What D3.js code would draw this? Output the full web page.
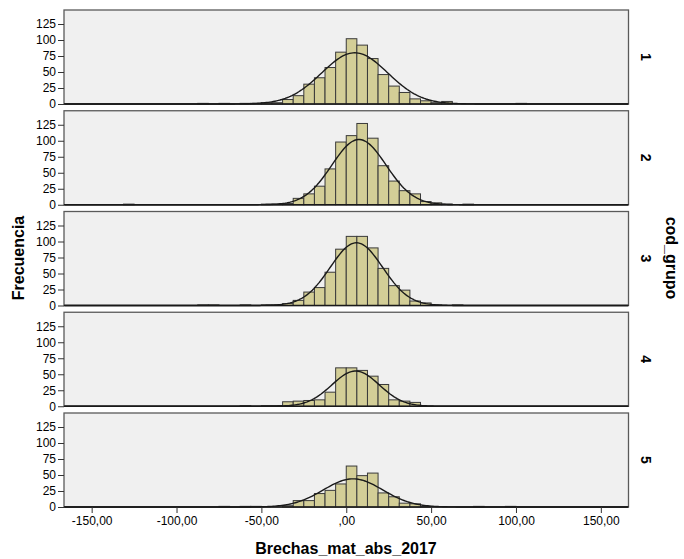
<!DOCTYPE html>
<html>
<head>
  <meta charset="utf-8">
  <script src="https://d3js.org/d3.v7.min.js"></script>
  <style>
    body { margin: 0; background: #fff; }
    text { font-family: "Liberation Sans", Arial, sans-serif; fill: #000; }
    .bar { fill: #d3ce97; stroke: #3a3a3a; stroke-width: 1; }
  </style>
</head>
<body>
<script>
// bin lower edges, width 6.25 (from -131.25 to 100)
var binWidth = 6.25;
var binEdges = d3.range(-21, 17).map(function (k) { return k * binWidth; });

// counts per bin for each cod_grupo panel (k = -21 .. 16)
//               -21 ........................ -14     -12     -10 -9  -8  -7  -6  -5  -4  -3  -2  -1   0    1    2   3   4   5   6  7  8  9 10 11 12 13 14 15 16
var grupo1 = [0,0,0,0,0,0,0, 1,0,1,0,1,1,2,2, 7,13,31,41,57,81,102, 92, 71,46,28,18, 8,5,2,4,0,0,0,0,0,0,1];
var grupo2 = [1,0,0,0,0,0,0, 0,0,0,0,0,0,1,1, 2,10,17,29,56,98,108,127,104,61,37,22,17,5,3,1,0,1,0,0,0,0,0];
var grupo3 = [0,0,0,0,0,0,0, 1,1,0,0,1,0,1,1, 3, 8,21,28,52,88,108,108, 90,58,31,24, 7,4,1,0,1,0,0,0,0,0,0];
var grupo4 = [0,0,0,0,0,0,0, 0,0,0,0,1,0,1,1, 7, 8, 9,10,22,60, 60, 56, 47,34,10, 8, 6,0,0,0,0,0,0,0,0,0,0];
var grupo5 = [0,0,0,0,0,0,0, 0,0,1,0,1,1,0,0, 2,10,10,21,26,36, 64, 49, 53,22,16, 6, 5,1,0,0,0,0,1,0,0,1,0];
var grupos = [grupo1, grupo2, grupo3, grupo4, grupo5];
var grupoLabels = ["1", "2", "3", "4", "5"];

// normal curve: centre, spread, peak height
var normMean = [5, 7.5, 6, 5.5, 4];
var normSd   = [19.5, 16, 15.5, 14, 17.5];
var normPeak = [80, 102, 98, 55, 44];

var xTicks = [-150, -100, -50, 0, 50, 100, 150];
var xTickLabels = ["-150,00", "-100,00", "-50,00", ",00", "50,00", "100,00", "150,00"];
var yTicks = [0, 25, 50, 75, 100, 125];

var width = 684, height = 559;
var left = 64, right = 628.5;
var panelH = 94, firstBase = 104, step = 100.75;

var svg = d3.select("body").append("svg")
  .attr("width", width)
  .attr("height", height);

var x = d3.scaleLinear().domain([-166.3, 166.3]).range([left, right]);

grupos.forEach(function (counts, i) {
  var base = firstBase + step * i;
  var top = base - panelH;
  var y = d3.scaleLinear().domain([0, 125]).range([base, base - 80]);
  var g = svg.append("g");

  // panel background
  g.append("rect")
    .attr("x", left).attr("y", top)
    .attr("width", right - left).attr("height", panelH)
    .attr("fill", "#f0f0f0")
    .attr("stroke", "#5a5a5a")
    .attr("stroke-width", 1.3);

  // bars
  var data = binEdges.map(function (e, j) { return { x0: e, n: counts[j] }; })
    .filter(function (d) { return d.n > 0; });
  g.selectAll("rect.bar").data(data).enter().append("rect")
    .attr("class", "bar")
    .attr("x", function (d) { return x(d.x0); })
    .attr("width", function (d) { return x(d.x0 + binWidth) - x(d.x0); })
    .attr("y", function (d) { return y(d.n); })
    .attr("height", function (d) { return base - y(d.n); });

  // normal curve
  var pts = d3.range(-166, 166.5, 1).map(function (v) {
    var z = (v - normMean[i]) / normSd[i];
    return [v, normPeak[i] * Math.exp(-0.5 * z * z)];
  });
  g.append("path")
    .attr("d", d3.line().x(function (d) { return x(d[0]); }).y(function (d) { return y(d[1]); })(pts))
    .attr("fill", "none")
    .attr("stroke", "#1a1a1a")
    .attr("stroke-width", 1.4);

  // baseline
  g.append("line")
    .attr("x1", left).attr("x2", right)
    .attr("y1", base).attr("y2", base)
    .attr("stroke", "#1a1a1a").attr("stroke-width", 1.5);

  // y axis
  var ya = g.append("g")
    .attr("transform", "translate(" + left + ",0)")
    .call(d3.axisLeft(y).tickValues(yTicks).tickSize(6).tickPadding(2));
  ya.select(".domain").remove();
  ya.selectAll("line").attr("stroke", "#333");
  ya.selectAll("text").style("font-size", "12px")
    .style("font-family", "'Liberation Sans', Arial, sans-serif");

  // panel label on the right
  g.append("text")
    .attr("transform", "translate(641," + (top + panelH / 2) + ") rotate(90)")
    .attr("text-anchor", "middle")
    .style("font-size", "14px")
    .style("font-weight", "bold")
    .text(grupoLabels[i]);
});

// x axis under the last panel
var lastBase = firstBase + step * 4;
var xa = svg.append("g")
  .attr("transform", "translate(0," + lastBase + ")")
  .call(d3.axisBottom(x).tickValues(xTicks)
    .tickFormat(function (d, j) { return xTickLabels[j]; })
    .tickSize(6).tickPadding(3));
xa.select(".domain").remove();
xa.selectAll("line").attr("stroke", "#333");
xa.selectAll("text").style("font-size", "12px")
  .style("font-family", "'Liberation Sans', Arial, sans-serif");

// axis titles
svg.append("text")
  .attr("x", 346).attr("y", 554)
  .attr("text-anchor", "middle")
  .style("font-size", "16px").style("font-weight", "bold")
  .text("Brechas_mat_abs_2017");

svg.append("text")
  .attr("transform", "translate(24,258) rotate(-90)")
  .attr("text-anchor", "middle")
  .style("font-size", "16px").style("font-weight", "bold")
  .text("Frecuencia");

svg.append("text")
  .attr("transform", "translate(666,258) rotate(90)")
  .attr("text-anchor", "middle")
  .style("font-size", "16px").style("font-weight", "bold")
  .text("cod_grupo");
</script>
</body>
</html>
